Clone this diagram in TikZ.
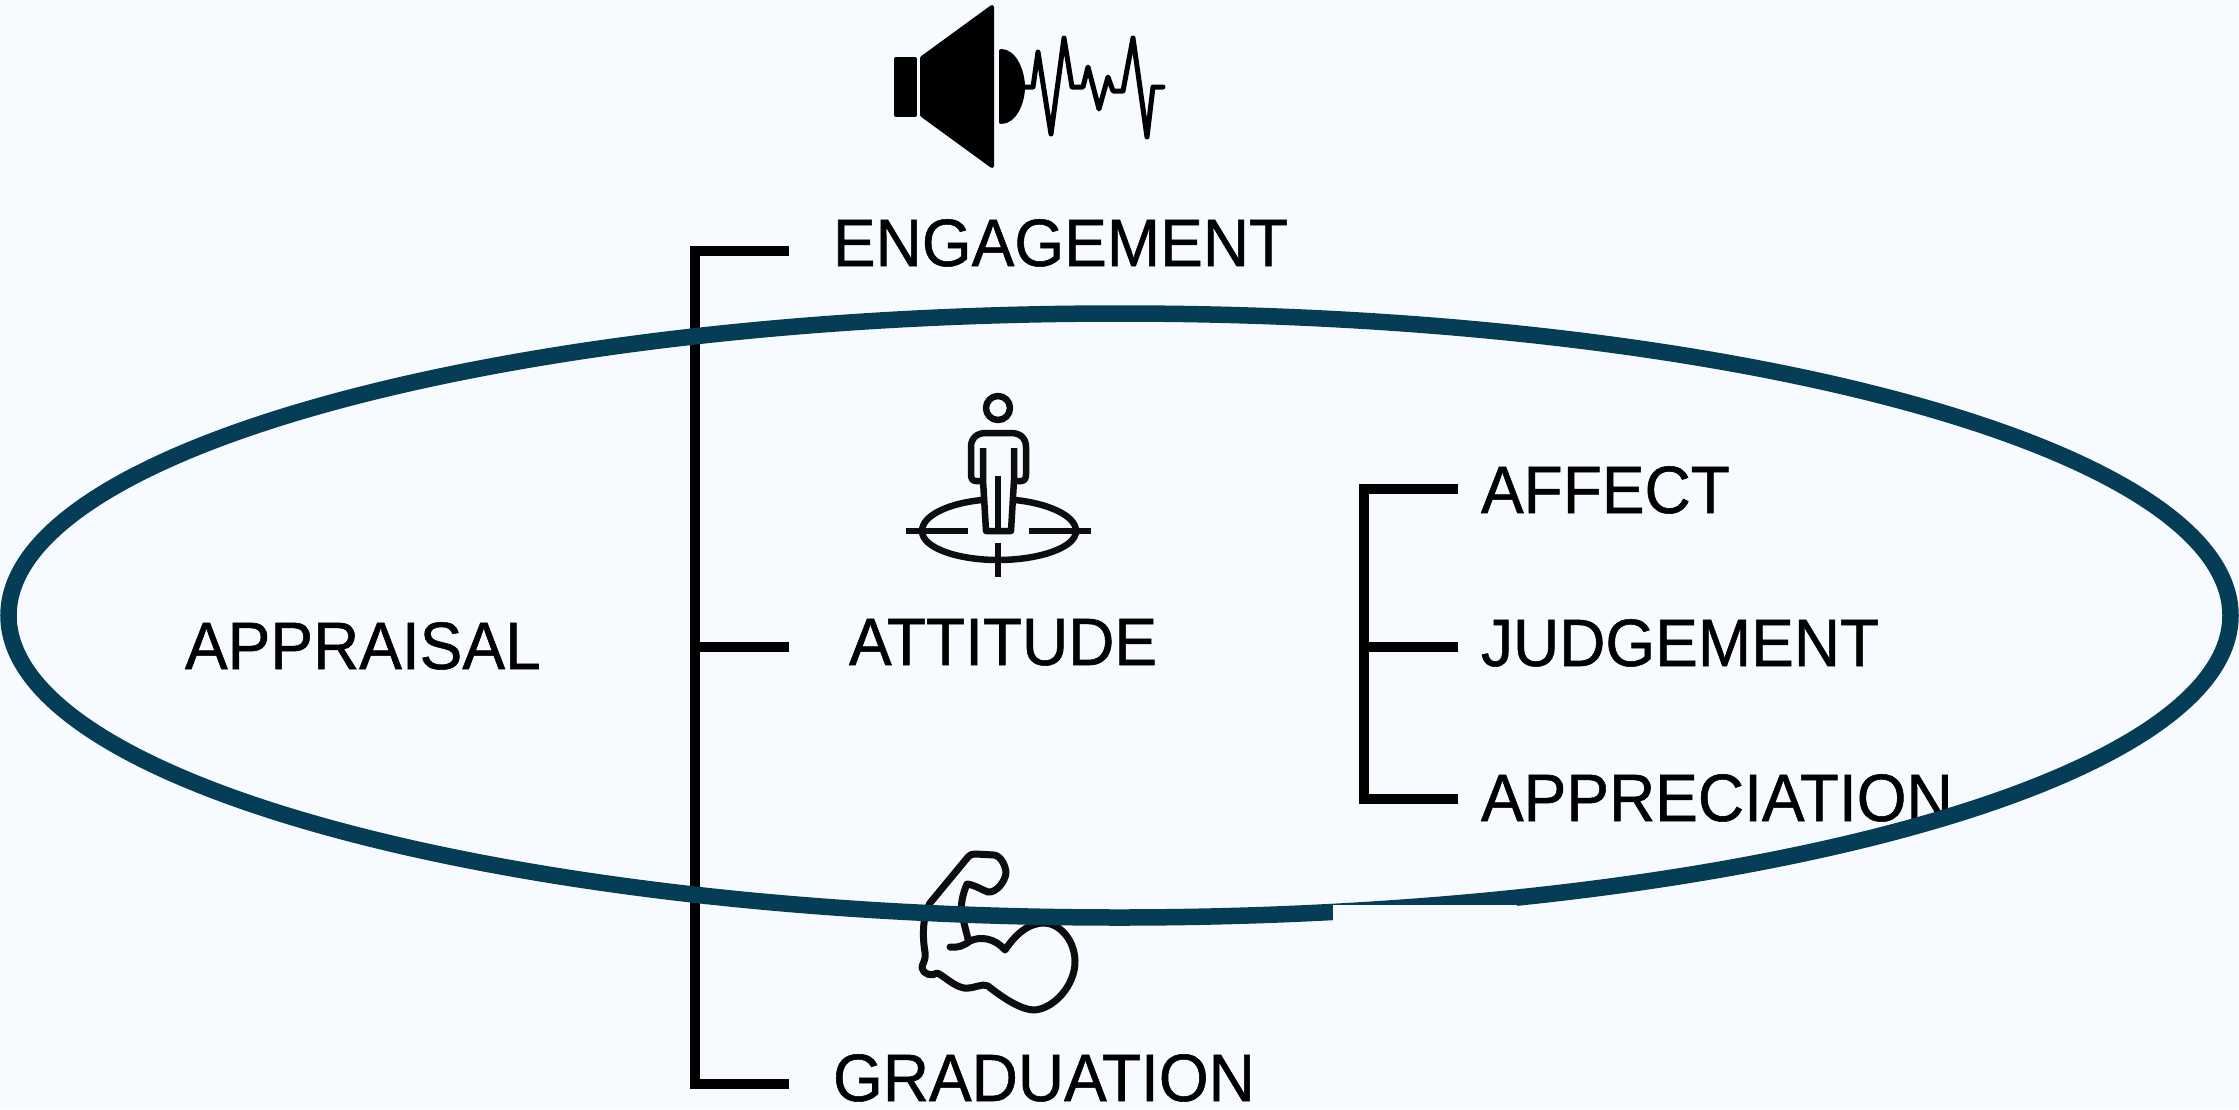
\documentclass[tikz,border=0pt]{standalone}
\usepackage{fontspec}
\usetikzlibrary{shapes.geometric}
\setmainfont[FakeStretch=0.955,FakeBold=0.8]{Liberation Sans}
\definecolor{bg}{HTML}{F7FBFF}
\definecolor{ringc}{HTML}{053D57}
\definecolor{ink}{HTML}{000000}
\definecolor{iconink}{HTML}{0D0D0D}
\tikzset{
  lab/.style={anchor=base west,inner sep=0pt,outer sep=0pt,text=ink,font=\fontsize{67}{67}\selectfont},
  brack/.style={draw=ink,line width=10pt,line cap=butt,line join=miter},
  icon/.style={draw=iconink,line width=6.5pt,line cap=round,line join=round},
  iconf/.style={fill=ink,draw=ink,line width=4pt,line join=round},
  ring/.style={draw=ringc,line width=16.5pt},
}
\begin{document}
\begin{tikzpicture}[x=1pt,y=-1pt]
\useasboundingbox (0,0) rectangle (2239,1109);
\fill[bg] (0,0) rectangle (2239,1109);
% speaker
\path[iconf] (896,59) rectangle (915,115);
\path[iconf] (922,58) -- (992,7) -- (992,166) -- (922,115) -- cycle;
\path[iconf] (1001,51) .. controls (1015,51) and (1023,72) .. (1023,87) .. controls (1023,102) and (1015,122) .. (1001,122) -- cycle;
\draw[draw=ink,line width=5pt,line cap=round,line join=round] (1025,87) -- (1033,87) -- (1038,52) -- (1051,134) -- (1064,38) -- (1072,87) -- (1083,87) -- (1088,67) -- (1099,109) -- (1108,77) -- (1113,91) -- (1123,91) -- (1133,38) -- (1147,137) -- (1153,87) -- (1163,87);
% texts
\node[lab] (engagement) at (833,266) {ENGAGEMENT};
\node[lab] (appraisal) at (185,669) {APPRAISAL};
\node[lab] (attitude) at (849,665) {ATTITUDE};
\node[lab] (affect) at (1481,513) {AFFECT};
\node[lab] (judgement) at (1481,666) {JUDGEMENT};
\node[lab] (appreciation) at (1481,821) {APPRECIATION};
\node[lab] (graduation) at (833,1101) {GRADUATION};
% brackets
\coordinate (b1t) at (789,251);
\coordinate (b1m) at (789,647);
\coordinate (b1b) at (789,1084);
\draw[brack] (b1t) -- (695,251) -- (695,1084) -- (b1b);
\draw[brack] (695,647) -- (b1m);
\coordinate (b2t) at (1458,489);
\coordinate (b2m) at (1458,647);
\coordinate (b2b) at (1458,799);
\draw[brack] (b2t) -- (1364,489) -- (1364,799) -- (b2b);
\draw[brack] (1364,647) -- (b2m);
% person
\draw[icon] (998,408) circle (12);
\draw[icon] (982,481) -- (976,481) .. controls (972,481) and (971,478) .. (971,474) -- (971,447) .. controls (971,438) and (977,433) .. (986,433) -- (1011,433) .. controls (1020,433) and (1026,438) .. (1026,447) -- (1026,474) .. controls (1026,478) and (1025,481) .. (1021,481) -- (1015,481);
\draw[icon,line cap=butt] (983,448) -- (983,480) -- (986,531) -- (1011,531) -- (1014,480) -- (1014,448);
\draw[icon,line cap=butt] (998,476) -- (998,531);
\draw[icon,line cap=butt] (982,500) .. controls (950,503) and (922,515) .. (922,531) .. controls (922,548) and (958,560) .. (998,560) .. controls (1038,560) and (1076,548) .. (1076,531) .. controls (1076,515) and (1046,503) .. (1015,500);
\draw[icon,line cap=butt] (906,531) -- (968,531);
\draw[icon,line cap=butt] (1029,531) -- (1091,531);
\draw[icon,line cap=butt] (998,543) -- (998,577);
% arm
\draw[icon,line width=7pt] (950,947) .. controls (958,948) and (963,946) .. (970,941) .. controls (980,936) and (995,938) .. (1005,950) .. controls (1015,935) and (1028,923) .. (1044,923) .. controls (1058,923) and (1074,938) .. (1075,960) .. controls (1076,985) and (1053,1010) .. (1033,1010) .. controls (1020,1009) and (1003,998) .. (988,986) .. controls (980,983) and (975,989) .. (964,988) .. controls (953,986) and (943,975) .. (937,973) .. controls (932,977) and (923,974) .. (922,968) .. controls (922,963) and (926,962) .. (925,952) .. controls (922,935) and (923,915) .. (930,903) -- (968,857) .. controls (971,854) and (973,854) .. (976,854) -- (994,855) .. controls (1002,856) and (1006,868) .. (1006,873) .. controls (1005,882) and (996,893) .. (988,892) .. controls (982,890) and (975,885) .. (967,884) .. controls (963,893) and (960,905) .. (962,915) -- (968,939);
% ring
\node[ring,ellipse,minimum width=2222pt,minimum height=604pt,inner sep=0pt,outer sep=0pt] (oval) at (1119.5,615.5) {};
\fill[bg] (1333,905) rectangle (1517,930);
\end{tikzpicture}
\end{document}
